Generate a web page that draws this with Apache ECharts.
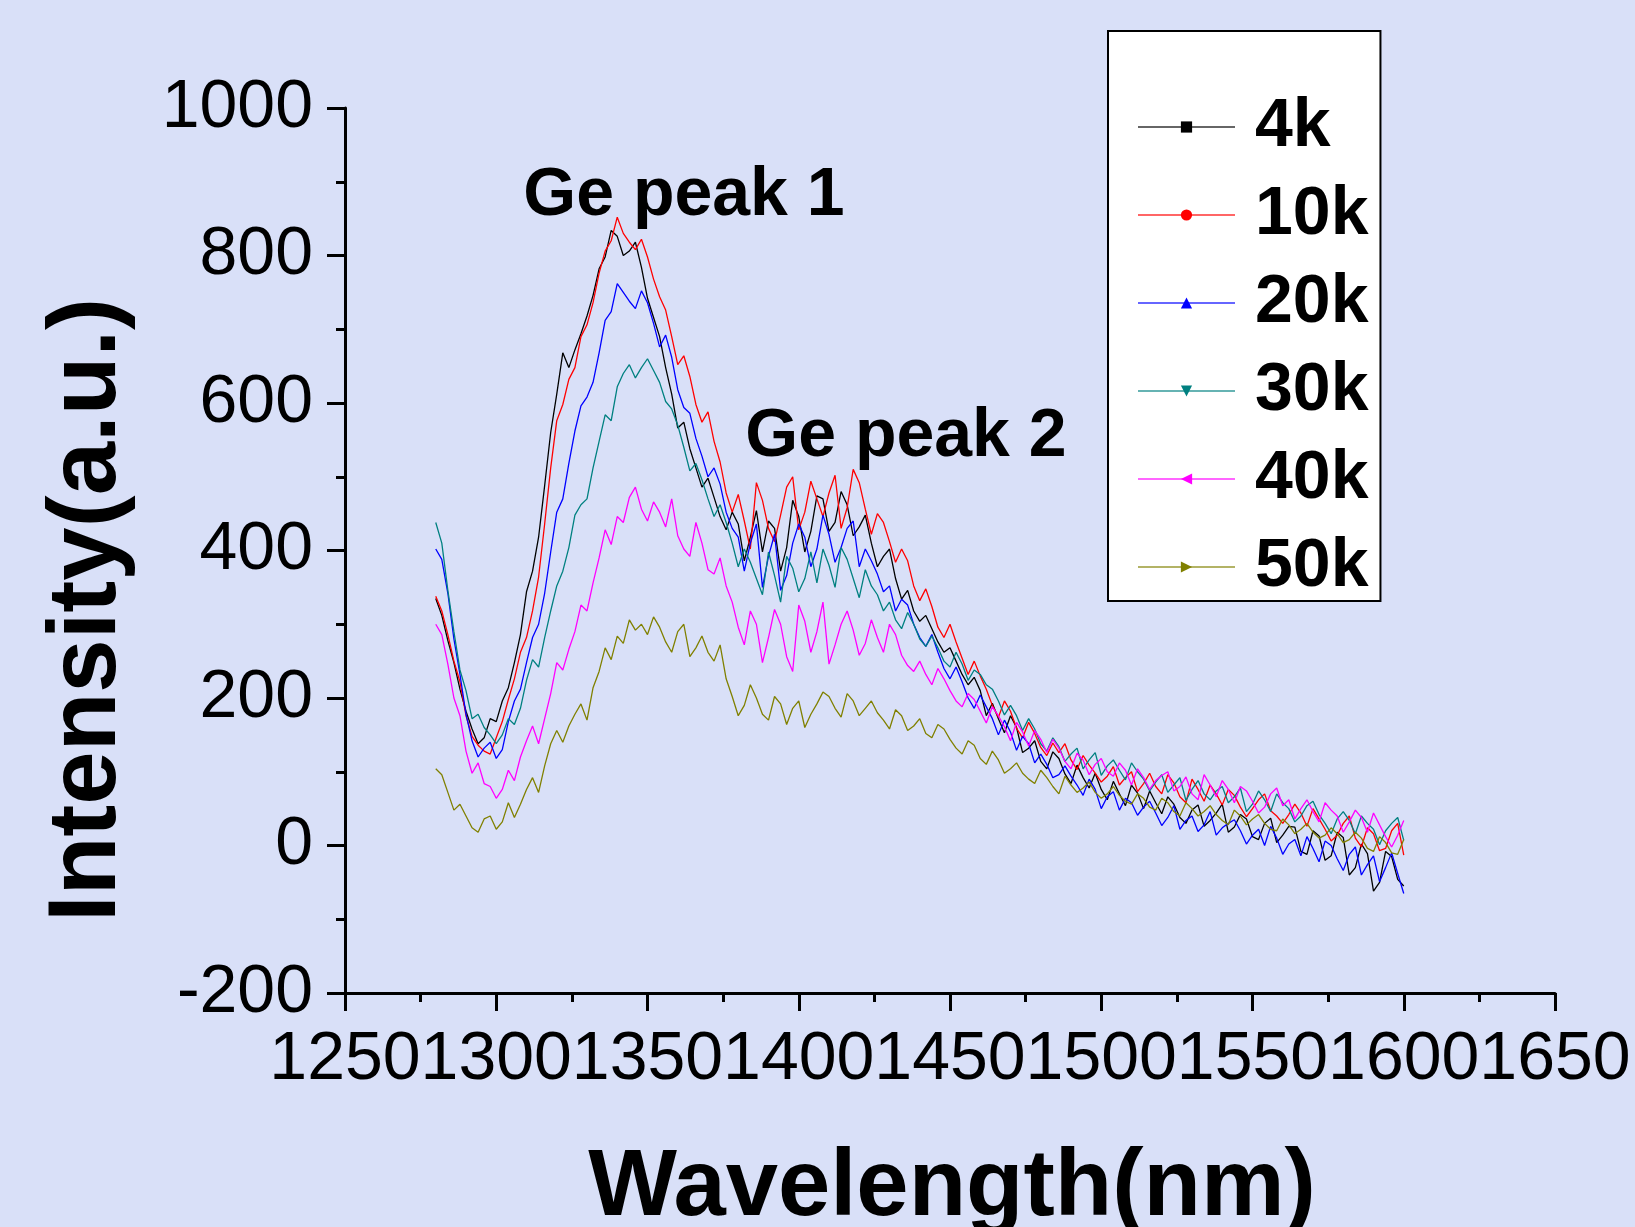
<!DOCTYPE html>
<html>
<head>
<meta charset="utf-8">
<title>Ge peaks</title>
<script src="https://cdn.jsdelivr.net/npm/echarts@6/dist/echarts.min.js"></script>
<style>
  html, body { margin: 0; padding: 0; background: #d9e0f8; }
  #main { width: 1635px; height: 1227px; }
</style>
</head>
<body>
<div id="main"></div>
<script>
"use strict";

var wavelength = [1280, 1282, 1284, 1286, 1288, 1290, 1292, 1294, 1296, 1298, 1300, 1302, 1304, 1306, 1308, 1310, 1312, 1314, 1316, 1318,
  1320, 1322, 1324, 1326, 1328, 1330, 1332, 1334, 1336, 1338, 1340, 1342, 1344, 1346, 1348, 1350, 1352, 1354, 1356, 1358,
  1360, 1362, 1364, 1366, 1368, 1370, 1372, 1374, 1376, 1378, 1380, 1382, 1384, 1386, 1388, 1390, 1392, 1394, 1396, 1398,
  1400, 1402, 1404, 1406, 1408, 1410, 1412, 1414, 1416, 1418, 1420, 1422, 1424, 1426, 1428, 1430, 1432, 1434, 1436, 1438,
  1440, 1442, 1444, 1446, 1448, 1450, 1452, 1454, 1456, 1458, 1460, 1462, 1464, 1466, 1468, 1470, 1472, 1474, 1476, 1478,
  1480, 1482, 1484, 1486, 1488, 1490, 1492, 1494, 1496, 1498, 1500, 1502, 1504, 1506, 1508, 1510, 1512, 1514, 1516, 1518,
  1520, 1522, 1524, 1526, 1528, 1530, 1532, 1534, 1536, 1538, 1540, 1542, 1544, 1546, 1548, 1550, 1552, 1554, 1556, 1558,
  1560, 1562, 1564, 1566, 1568, 1570, 1572, 1574, 1576, 1578, 1580, 1582, 1584, 1586, 1588, 1590, 1592, 1594, 1596, 1598, 1600];

var s4k = [335, 312, 278, 248, 212, 182, 158, 138, 146, 172, 168, 196, 214, 248, 286, 344, 372, 418, 488, 560,
  612, 668, 648, 672, 694, 718, 746, 782, 798, 834, 826, 800, 806, 818, 784, 742, 716, 690, 648, 612,
  566, 574, 538, 512, 486, 498, 472, 446, 428, 452, 436, 386, 418, 454, 398, 440, 430, 372, 404, 468,
  446, 398, 426, 474, 470, 426, 438, 480, 462, 420, 432, 448, 410, 378, 392, 402, 362, 334, 346, 318,
  304, 312, 294, 276, 262, 268, 250, 232, 218, 228, 210, 176, 193, 172, 153, 176, 160, 126, 132, 142,
  114, 104, 127, 118, 97, 84, 109, 92, 78, 98, 76, 62, 87, 70, 54, 82, 71, 50, 74, 58,
  43, 66, 56, 38, 30, 48, 55, 26, 34, 44, 56, 18, 25, 42, 36, 12, 8, 30, 37, 4,
  14, 26, 25, -8, -12, 20, 13, -20, -14, 18, 11, -40, -30, 2, -11, -62, -50, -8, -15, -46, -55];

var s10k = [338, 318, 286, 250, 222, 176, 148, 136, 128, 124, 146, 168, 198, 226, 262, 282, 318, 364, 436, 512,
  576, 598, 632, 648, 690, 706, 736, 776, 806, 820, 852, 830, 818, 808, 822, 798, 768, 744, 726, 690,
  652, 664, 636, 598, 574, 588, 548, 520, 478, 452, 476, 440, 402, 492, 468, 430, 412, 448, 486, 500,
  428, 452, 494, 470, 446, 478, 502, 430, 458, 510, 492, 456, 422, 450, 438, 412, 384, 402, 386, 352,
  332, 348, 324, 296, 282, 300, 276, 254, 232, 250, 230, 212, 190, 174, 196, 182, 159, 146, 167, 152,
  133, 122, 139, 126, 138, 116, 103, 122, 109, 98, 86, 94, 107, 82, 92, 100, 73, 84, 98, 80,
  70, 96, 85, 66, 58, 90, 76, 60, 82, 70, 55, 76, 68, 52, 39, 50, 62, 70, 47, 40,
  30, 42, 56, 44, 26, 50, 36, 22, 6, 14, 30, 40, 10, -2, 24, 16, -7, -4, 20, 30, -13];

var s20k = [402, 388, 342, 280, 232, 178, 142, 120, 132, 140, 118, 130, 168, 196, 212, 248, 282, 300, 342, 398,
  452, 470, 518, 562, 596, 608, 628, 668, 712, 724, 762, 750, 738, 728, 752, 736, 708, 676, 692, 662,
  618, 594, 586, 552, 528, 500, 512, 490, 452, 430, 418, 372, 410, 436, 350, 392, 422, 346, 366, 410,
  436, 418, 378, 402, 448, 422, 384, 404, 430, 440, 378, 402, 386, 368, 344, 352, 318, 334, 326, 300,
  282, 270, 286, 262, 240, 226, 242, 222, 200, 186, 204, 188, 172, 150, 170, 154, 129, 148, 138, 112,
  124, 110, 92, 96, 108, 94, 82, 68, 90, 76, 50, 66, 73, 48, 64, 58, 41, 52, 60, 44,
  27, 38, 54, 22, 34, 40, 19, 28, 46, 14, 24, 30, 35, 20, 2, 14, 22, 0, 26, 10,
  -12, 2, 8, -14, 12, -4, -22, 6, 0, -18, -34, -12, -2, -40, -26, -14, -49, -30, -10, -38, -65];

var s30k = [438, 410, 346, 290, 238, 210, 172, 178, 160, 150, 138, 150, 172, 164, 186, 224, 252, 242, 282, 318,
  352, 372, 404, 448, 462, 470, 512, 548, 584, 576, 622, 640, 652, 634, 648, 660, 644, 628, 602, 592,
  570, 540, 508, 518, 496, 470, 446, 462, 438, 410, 378, 402, 384, 362, 340, 398, 366, 330, 392, 376,
  344, 362, 398, 356, 402, 380, 350, 404, 388, 362, 336, 374, 352, 340, 318, 330, 306, 294, 316, 300,
  280, 270, 284, 268, 250, 242, 262, 246, 224, 238, 232, 218, 212, 196, 177, 190, 176, 156, 172, 158,
  138, 128, 146, 134, 114, 124, 132, 104, 116, 126, 95, 108, 116, 102, 89, 112, 100, 90, 74, 86,
  96, 72, 82, 92, 61, 76, 88, 70, 62, 74, 80, 58, 66, 78, 46, 56, 74, 62, 46, 70,
  58, 50, 32, 40, 54, 60, 42, 30, 16, 36, 46, 34, 16, 40, 30, 22, 1, 20, 30, 38, 7];

var s40k = [300, 286, 246, 200, 176, 128, 98, 112, 84, 80, 64, 76, 102, 88, 120, 142, 162, 138, 172, 206,
  248, 238, 266, 290, 326, 318, 356, 390, 428, 408, 446, 438, 472, 486, 456, 440, 466, 452, 432, 470,
  420, 402, 392, 438, 410, 374, 368, 390, 352, 330, 296, 272, 318, 300, 248, 282, 320, 300, 256, 236,
  326, 304, 262, 290, 330, 246, 272, 300, 318, 292, 258, 274, 306, 282, 262, 300, 286, 258, 244, 236,
  250, 232, 218, 240, 226, 210, 196, 188, 206, 198, 182, 166, 188, 176, 161, 142, 167, 154, 135, 156,
  144, 126, 144, 132, 114, 104, 125, 116, 96, 110, 118, 100, 94, 112, 102, 82, 104, 92, 76, 88,
  95, 100, 74, 80, 93, 70, 62, 96, 82, 66, 88, 76, 58, 80, 74, 60, 44, 52, 70, 78,
  54, 62, 36, 50, 62, 46, 32, 58, 48, 40, 18, 32, 48, 38, 18, 44, 28, 12, -2, 14, 34];

var s50k = [104, 96, 72, 48, 56, 40, 24, 18, 36, 40, 22, 32, 58, 38, 56, 76, 92, 72, 108, 138,
  156, 140, 162, 178, 192, 170, 214, 236, 268, 252, 284, 274, 306, 292, 300, 286, 310, 296, 276, 262,
  290, 300, 256, 268, 284, 262, 250, 272, 226, 202, 176, 190, 218, 200, 178, 170, 202, 192, 164, 186,
  196, 160, 178, 192, 208, 202, 186, 174, 206, 196, 176, 186, 196, 180, 170, 158, 184, 176, 156, 162,
  172, 152, 146, 164, 158, 144, 132, 124, 142, 136, 118, 110, 128, 116, 98, 104, 112, 98, 90, 84,
  102, 92, 80, 70, 94, 82, 72, 78, 86, 72, 64, 70, 80, 68, 60, 56, 70, 64, 52, 48,
  64, 58, 46, 40, 58, 50, 40, 46, 54, 42, 34, 28, 48, 40, 28, 36, 42, 30, 22, 20,
  36, 28, 16, 22, 30, 18, 10, 14, 24, 16, 4, 8, 18, 10, -4, -8, 12, 4, -10, -12, 8];

var seriesNames = ["4k", "10k", "20k", "30k", "40k", "50k"];
var seriesValues = [s4k, s10k, s20k, s30k, s40k, s50k];
var seriesColors = ["#000000", "#ff0000", "#0000ff", "#008080", "#ff00ff", "#808000"];
var seriesSymbols = ["rect", "circle", "triangle", "triangle", "triangle", "triangle"];
var seriesRotate = [0, 0, 0, 180, 90, -90];

var FONT = '"Liberation Sans", Arial, Helvetica, sans-serif';

var chart = echarts.init(document.getElementById("main"), null, { renderer: "canvas" });

var series = seriesNames.map(function (name, k) {
  var ys = seriesValues[k];
  var n = Math.min(ys.length, wavelength.length);
  var data = [];
  for (var i = 0; i < n; i++) {
    data.push([wavelength[i], ys[i]]);
  }
  return {
    name: name,
    type: "line",
    data: data,
    showSymbol: false,
    symbol: seriesSymbols[k],
    symbolRotate: seriesRotate[k],
    symbolSize: 8,
    lineStyle: { color: seriesColors[k], width: 1.3 },
    itemStyle: { color: seriesColors[k] },
    emphasis: { disabled: true },
    silent: true,
  };
});

function plain(v) {
  return String(v);
}

chart.setOption({
  animation: false,
  backgroundColor: "#d9e0f8",
  grid: { left: 345, right: 80, top: 108, bottom: 234, outerBoundsMode: "none" },
  legend: {
    orient: "vertical",
    left: 1108,
    top: 31,
    padding: [62, 12, 0, 29],
    backgroundColor: "#ffffff",
    borderColor: "#000000",
    borderWidth: 2,
    itemWidth: 97,
    itemHeight: 14,
    itemGap: 20,
    selectedMode: false,
    lineStyle: { width: 2, opacity: 0.6 },
    textStyle: {
      fontFamily: FONT,
      fontSize: 68,
      fontWeight: "bold",
      color: "#000",
      padding: [0, 0, 0, 15],
    },
    data: seriesNames,
  },
  xAxis: {
    type: "value",
    min: 1250,
    max: 1650,
    interval: 50,
    axisLine: { show: true, onZero: false, lineStyle: { color: "#000", width: 3 } },
    axisTick: { show: true, inside: false, length: 18, lineStyle: { color: "#000", width: 3 } },
    minorTick: { show: true, splitNumber: 2, length: 9, lineStyle: { color: "#000", width: 3 } },
    splitLine: { show: false },
    minorSplitLine: { show: false },
    axisLabel: {
      fontFamily: FONT, fontSize: 68, color: "#000", margin: 33,
      formatter: plain, showMinLabel: true, showMaxLabel: true, hideOverlap: false,
    },
  },
  yAxis: {
    type: "value",
    min: -200,
    max: 1000,
    interval: 200,
    axisLine: { show: true, lineStyle: { color: "#000", width: 3 } },
    axisTick: { show: true, inside: false, length: 18, lineStyle: { color: "#000", width: 3 } },
    minorTick: { show: true, splitNumber: 2, length: 9, lineStyle: { color: "#000", width: 3 } },
    splitLine: { show: false },
    minorSplitLine: { show: false },
    axisLabel: {
      fontFamily: FONT, fontSize: 68, color: "#000", margin: 32,
      formatter: plain, showMinLabel: true, showMaxLabel: true, hideOverlap: false,
    },
  },
  graphic: [
    {
      type: "text", x: 684, y: 196, silent: true,
      style: { text: "Ge peak 1", fontFamily: FONT, fontSize: 68, fontWeight: "bold", fill: "#000", align: "center", verticalAlign: "middle" },
    },
    {
      type: "text", x: 906, y: 437, silent: true,
      style: { text: "Ge peak 2", fontFamily: FONT, fontSize: 68, fontWeight: "bold", fill: "#000", align: "center", verticalAlign: "middle" },
    },
    {
      type: "text", x: 89, y: 610, rotation: Math.PI / 2, silent: true,
      style: { text: "Intensity(a.u.)", fontFamily: FONT, fontSize: 96, fontWeight: "bold", fill: "#000", align: "center", verticalAlign: "middle" },
    },
    {
      type: "text", x: 952, y: 1189, silent: true,
      style: { text: "Wavelength(nm)", fontFamily: FONT, fontSize: 94, fontWeight: "bold", fill: "#000", align: "center", verticalAlign: "middle" },
    },
  ],
  series: series,
});
</script>
</body>
</html>
